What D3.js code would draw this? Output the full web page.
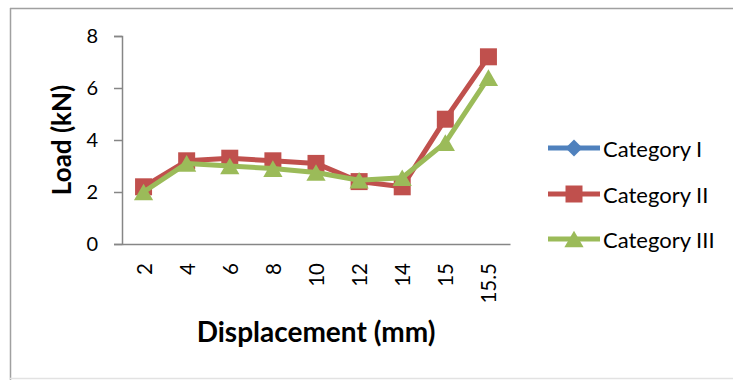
<!DOCTYPE html>
<html><head><meta charset="utf-8">
<script src="https://cdn.jsdelivr.net/npm/d3@7"></script>
<style>body{margin:0;background:#fff;} text{font-family:Lato,"Open Sans",sans-serif;fill:#000;}</style>
</head><body>
<svg id="c" width="733" height="380"></svg>
<script>
const categories = ["2","4","6","8","10","12","14","15","15.5"];
const seriesNames = ["Category I","Category II","Category III"];
const catI   = [null, null, null, null, null, null, null, null, null];
const catII  = [2.2, 3.2, 3.3, 3.2, 3.1, 2.4, 2.2, 4.8, 7.2];
const catIII = [2.0, 3.1, 3.0, 2.9, 2.75, 2.45, 2.55, 3.9, 6.4];
const yTicks = [0, 2, 4, 6, 8];
const colors = ["#4F81BD", "#C0504D", "#9BBB59"];

const svg = d3.select("#c");
// outer frame
svg.append("line").attr("x1",10).attr("x2",733).attr("y1",8.5).attr("y2",8.5).attr("stroke","#a0a0a0").attr("stroke-width",1.5);
svg.append("line").attr("x1",10.5).attr("x2",10.5).attr("y1",8).attr("y2",380).attr("stroke","#a0a0a0").attr("stroke-width",1.5);
svg.append("line").attr("x1",10).attr("x2",733).attr("y1",378.5).attr("y2",378.5).attr("stroke","#e2e2e2").attr("stroke-width",1.5);

const x = d3.scaleBand().domain(categories).range([122, 510]);
const y = d3.scaleLinear().domain([0, 8]).range([244, 36]);

// axes
const yAx = svg.append("g").attr("transform","translate(122,0)")
  .call(d3.axisLeft(y).tickValues(yTicks).tickSize(8).tickPadding(8));
yAx.select(".domain").attr("stroke","#868686").attr("stroke-width",1.5);
yAx.selectAll(".tick line").attr("stroke","#868686").attr("stroke-width",1.5);
yAx.selectAll(".tick text").attr("font-size",20).attr("font-family","Lato").attr("fill","#000").attr("dx",-8);

const xAx = svg.append("g").attr("transform","translate(0,244)")
  .call(d3.axisBottom(x).tickSize(0).tickPadding(0));
xAx.select(".domain").attr("stroke","#868686").attr("stroke-width",1.5);
xAx.selectAll(".tick text")
  .attr("font-size",20.5).attr("font-family","Lato").attr("fill","#000")
  .attr("text-anchor","end").attr("dy",null)
  .attr("transform","translate(0,19) rotate(-90)")
  .attr("x",0).attr("y",0).attr("dominant-baseline","central");

// marker shapes
const sqSize = 289, triSize = 160, diaSize = 144;
const triOff = Math.sqrt(triSize/(3*Math.sqrt(3)))/2;
const markers = [
  {d: d3.symbol().type(d3.symbolSquare).size(diaSize)(), rot: 45, off: 0},
  {d: d3.symbol().type(d3.symbolSquare).size(sqSize)(), rot: 0, off: 0},
  {d: d3.symbol().type(d3.symbolTriangle).size(triSize)(), rot: 0, off: triOff}
];

// series
const data = [catI, catII, catIII];
const cx = i => x(categories[i]) + x.bandwidth()/2;
const line = d3.line().defined(d => d != null).x((d,i)=>cx(i)).y(d=>y(d));
data.forEach((vals,s)=>{
  const g = svg.append("g");
  g.append("path").datum(vals).attr("d",line).attr("fill","none")
    .attr("stroke",colors[s]).attr("stroke-width",5).attr("stroke-linejoin","round");
  g.selectAll("path.m").data(vals.map((v,i)=>({v,i})).filter(o=>o.v!=null)).join("path").attr("class","m")
    .attr("d",markers[s].d)
    .attr("transform",o=>`translate(${cx(o.i)},${y(o.v) + markers[s].off}) rotate(${markers[s].rot})`)
    .attr("fill",colors[s]);
});

// legend
const ly = [148, 194, 239];
seriesNames.forEach((n,s)=>{
  const g = svg.append("g").attr("transform",`translate(0,${ly[s]})`);
  g.append("line").attr("x1",548).attr("x2",600).attr("stroke",colors[s]).attr("stroke-width",5);
  g.append("path").attr("d",markers[s].d).attr("transform",`translate(574,${markers[s].off}) rotate(${markers[s].rot})`).attr("fill",colors[s]);
  g.append("text").attr("x",603).attr("y",0).attr("dominant-baseline","central").attr("font-size",22).text(n);
});

// axis titles
svg.append("text").attr("transform","translate(61,140) rotate(-90)").attr("text-anchor","middle")
  .attr("dominant-baseline","central").attr("font-weight","bold").attr("font-size",26).text("Load (kN)");
svg.append("text").attr("x",316).attr("y",331).attr("text-anchor","middle")
  .attr("dominant-baseline","central").attr("font-weight","bold").attr("font-size",28).text("Displacement (mm)");
</script>
</body></html>
